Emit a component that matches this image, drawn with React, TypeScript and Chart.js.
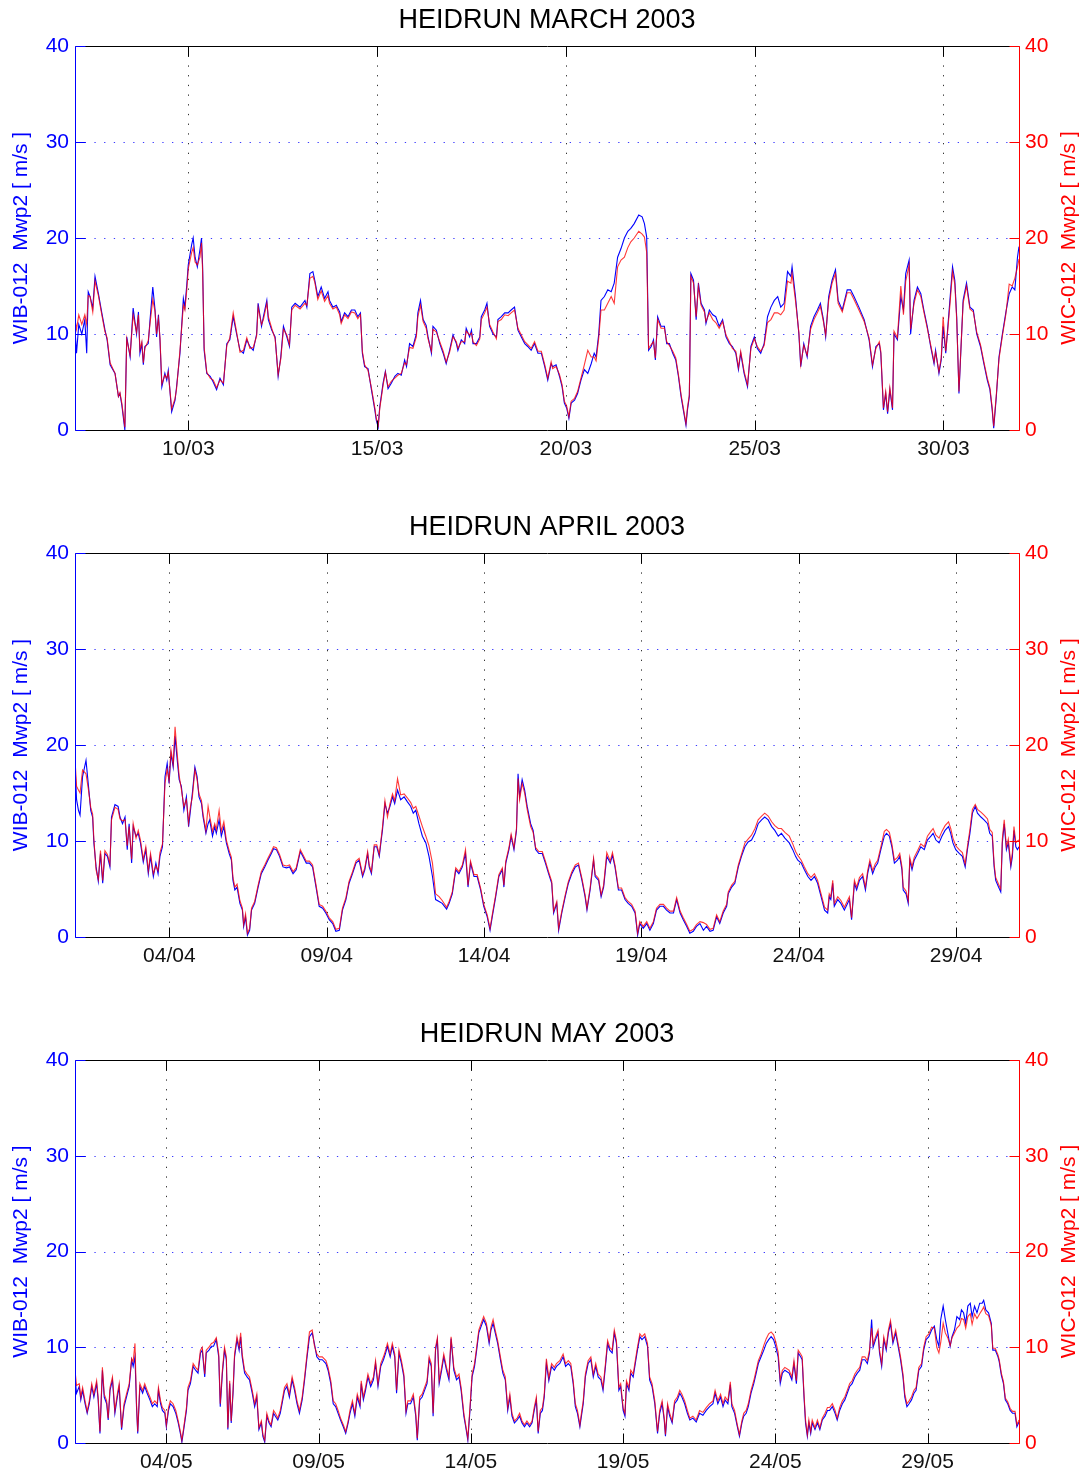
import React, { useEffect, useRef } from "react";
import { Chart, registerables } from "chart.js";

Chart.register(...registerables);

// ---------------- DATA (days since start of panel, values in m/s) ----------------
const marchDays = [
  0.00,0.04,0.10,0.18,0.26,0.31,0.35,0.40,0.47,0.53,
  0.62,0.71,0.79,0.85,0.93,1.06,1.15,1.19,1.24,1.32,
  1.37,1.46,1.54,1.63,1.68,1.72,1.77,1.81,1.85,1.94,
  1.99,2.06,2.12,2.16,2.21,2.25,2.30,2.38,2.43,2.47,
  2.56,2.65,2.69,2.78,2.87,2.91,2.96,3.00,3.09,3.13,
  3.18,3.24,3.31,3.35,3.38,3.42,3.49,3.58,3.66,3.75,
  3.84,3.93,4.02,4.10,4.19,4.28,4.37,4.46,4.55,4.63,
  4.72,4.81,4.85,4.94,4.99,5.08,5.12,5.21,5.30,5.38,
  5.45,5.52,5.61,5.68,5.74,5.83,5.96,6.09,6.14,6.22,
  6.30,6.35,6.43,6.52,6.61,6.70,6.74,6.83,6.92,7.01,
  7.05,7.14,7.23,7.32,7.41,7.49,7.56,7.61,7.67,7.76,
  7.85,7.94,7.98,8.03,8.07,8.16,8.22,8.29,8.38,8.47,
  8.55,8.64,8.73,8.78,8.86,8.95,9.04,9.08,9.15,9.22,
  9.30,9.35,9.44,9.48,9.57,9.66,9.75,9.83,9.92,10.01,
  10.10,10.14,10.23,10.32,10.36,10.45,10.50,10.54,10.63,10.72,
  10.76,10.85,10.91,10.98,11.07,11.16,11.20,11.29,11.38,11.47,
  11.55,11.64,11.73,11.82,11.91,11.99,12.08,12.17,12.26,12.35,
  12.44,12.52,12.61,12.65,12.74,12.83,12.90,12.96,13.02,13.08,
  13.14,13.23,13.31,13.40,13.49,13.58,13.67,13.75,13.80,13.87,
  13.93,14.02,14.11,14.20,14.28,14.37,14.46,14.55,14.64,14.72,
  14.81,14.93,15.02,15.08,15.14,15.19,15.26,15.32,15.37,15.43,
  15.52,15.61,15.67,15.74,15.83,15.91,15.98,16.05,16.11,16.18,
  16.22,16.27,16.31,16.38,16.45,16.51,16.58,16.67,16.71,16.80,
  16.89,16.97,17.06,17.15,17.24,17.33,17.41,17.50,17.57,17.63,
  17.72,17.81,17.90,17.99,18.07,18.16,18.25,18.34,18.43,18.52,
  18.61,18.69,18.78,18.87,18.96,18.99,19.08,19.17,19.22,19.30,
  19.39,19.48,19.57,19.66,19.74,19.82,19.88,19.96,20.05,20.14,
  20.21,20.32,20.45,20.54,20.63,20.76,20.90,21.03,21.12,21.21,
  21.30,21.34,21.41,21.47,21.52,21.58,21.65,21.69,21.78,21.87,
  21.94,22.00,22.09,22.13,22.22,22.31,22.40,22.48,22.57,22.66,
  22.75,22.79,22.88,22.94,22.99,23.06,23.10,23.17,23.24,23.30,
  23.35,23.41,23.45,23.52,23.61,23.70,23.79,23.88,23.98,24.07,
  24.16,24.23,24.29,24.33,24.40,24.47,24.56,24.65,24.74,24.82,
  24.89,24.96,25.00,
];
const marchWib = [
  10.5,8.0,11.0,10.0,11.5,8.0,14.4,13.9,12.7,16.0,
  14.2,12.2,10.5,9.4,6.8,5.9,3.5,3.8,2.6,0.0,
  9.7,7.6,12.7,10.0,12.3,8.0,9.0,6.8,8.7,9.0,
  11.6,14.9,12.5,9.7,12.0,9.4,4.5,5.9,5.2,6.2,
  1.9,3.1,4.5,8.0,13.7,12.8,15.1,17.2,19.3,20.0,
  18.0,17.0,18.8,20.0,17.0,8.3,5.9,5.6,5.0,4.2,
  5.4,4.7,9.0,9.4,11.8,10.0,8.3,8.0,9.4,8.7,
  8.3,10.0,13.2,10.8,11.8,13.5,11.5,10.4,9.7,5.6,
  7.6,10.8,9.7,8.7,12.8,13.2,12.8,13.5,12.8,16.3,
  16.5,15.6,13.9,14.9,13.7,14.4,13.5,12.8,13.0,12.3,
  11.3,12.2,11.8,12.5,12.5,11.8,12.2,8.0,6.6,6.4,
  4.2,2.1,1.0,0.3,2.4,4.9,6.1,4.3,4.9,5.6,
  5.9,5.7,7.3,6.6,9.0,8.7,10.0,12.2,13.5,11.5,
  10.9,9.7,8.0,10.8,10.4,9.0,8.0,6.9,8.3,9.9,
  9.0,8.3,9.4,9.0,10.6,9.7,10.4,9.0,9.0,9.7,
  11.8,12.5,13.2,10.8,10.0,9.7,11.5,11.8,12.2,12.2,
  12.5,12.8,10.4,9.7,9.0,8.7,8.3,9.0,8.0,8.0,
  6.6,5.2,6.9,6.6,6.8,5.6,4.5,2.8,2.3,1.2,
  2.8,3.1,3.8,5.2,6.3,5.9,6.9,8.0,7.6,10.0,
  13.5,13.9,14.6,14.4,15.3,18.0,18.9,20.0,20.7,21.0,
  21.5,22.4,22.2,21.5,20.1,8.3,8.7,9.4,7.3,11.8,
  10.8,10.8,9.0,9.0,8.0,7.3,5.6,3.5,2.1,0.5,
  2.1,3.5,16.3,15.6,11.5,15.3,13.2,12.5,11.1,12.5,
  12.0,11.8,10.8,11.5,9.7,9.0,8.7,8.0,6.3,8.0,
  5.9,4.5,8.7,9.7,8.5,8.0,9.0,11.8,12.8,13.5,
  13.9,12.8,13.2,16.5,16.0,17.0,13.9,10.0,6.6,9.0,
  7.6,10.8,11.8,12.5,13.2,11.5,9.7,13.9,15.6,16.7,
  13.5,12.5,14.6,14.6,13.9,12.8,11.5,9.4,6.6,8.7,
  9.0,8.0,2.1,3.8,1.7,4.2,2.1,10.0,9.4,13.9,
  12.5,16.3,17.7,10.0,13.5,14.9,14.2,12.5,10.8,8.7,
  6.9,8.3,5.9,7.3,10.8,8.0,10.0,13.5,17.0,15.6,
  11.8,3.8,7.3,13.5,15.3,12.8,12.5,10.0,8.7,6.9,
  5.2,4.2,2.1,0.2,3.5,7.6,10.0,12.2,14.2,14.9,
  14.6,18.0,19.1,
];
const marchWic = [
  11.5,10.5,12.0,11.0,12.0,11.0,14.0,13.9,12.3,15.5,
  14.0,12.0,10.3,9.6,7.0,5.9,3.5,3.9,2.8,0.3,
  9.5,7.8,12.0,10.2,12.0,8.4,9.2,7.0,8.5,9.3,
  11.2,13.6,12.3,10.0,11.6,9.6,4.8,5.7,5.4,6.0,
  2.2,3.3,4.3,8.3,13.0,12.5,14.6,16.8,18.5,19.0,
  17.5,17.2,18.0,19.5,16.5,8.6,6.0,5.4,5.2,4.4,
  5.2,4.9,8.8,9.6,12.2,10.2,8.1,8.3,9.6,8.5,
  8.6,9.8,12.8,11.0,11.5,13.2,11.8,10.6,9.5,5.8,
  7.4,10.5,9.9,8.9,12.5,13.0,12.6,13.2,13.0,15.8,
  16.0,15.4,13.6,14.5,13.4,14.0,13.2,12.6,12.8,12.0,
  11.1,12.0,11.6,12.3,12.2,11.6,12.0,8.2,6.8,6.2,
  4.4,2.3,1.2,0.5,2.2,4.7,6.0,4.5,5.1,5.4,
  5.7,5.9,7.0,6.8,8.6,8.5,9.7,11.8,13.0,11.3,
  10.6,9.5,8.2,10.5,10.2,9.2,8.2,7.1,8.1,9.7,
  9.2,8.5,9.2,9.2,10.3,9.9,10.1,9.2,8.8,9.5,
  11.5,12.2,12.8,11.0,10.2,9.5,11.3,11.5,12.0,11.9,
  12.2,12.5,10.6,9.9,9.2,8.9,8.5,9.2,8.2,8.2,
  6.8,5.4,7.1,6.4,6.6,5.8,4.7,3.0,2.5,1.4,
  3.0,3.3,4.0,5.4,6.8,8.3,7.6,7.6,7.2,9.6,
  12.5,12.5,13.2,13.9,13.2,17.0,17.7,18.0,19.0,19.6,
  20.0,20.7,20.4,20.1,18.5,8.5,8.9,9.2,7.5,11.5,
  10.6,10.6,9.2,8.8,8.2,7.5,5.8,3.7,2.3,0.7,
  2.3,3.7,16.0,15.3,11.8,15.0,13.0,12.3,11.3,12.2,
  11.5,11.2,10.6,11.3,9.9,9.2,8.5,8.2,6.5,8.2,
  6.1,4.7,8.5,9.5,8.7,8.2,8.8,11.2,11.5,12.2,
  12.2,12.0,12.5,15.5,15.3,16.3,13.5,10.2,6.8,8.8,
  7.8,10.5,11.5,12.2,12.9,11.3,9.9,13.5,15.3,16.3,
  13.2,12.3,14.3,14.3,13.6,12.5,11.3,9.6,6.8,8.5,
  9.2,8.2,2.3,4.0,1.9,4.4,2.3,10.3,9.6,15.0,
  12.0,15.5,17.2,10.5,13.2,14.6,13.9,12.3,10.6,8.9,
  7.1,8.1,6.1,7.5,11.8,8.2,9.8,13.0,16.5,15.2,
  11.5,4.0,7.5,13.2,15.0,12.6,12.3,10.2,8.9,7.1,
  5.4,4.4,2.3,0.4,3.7,7.4,9.8,12.0,15.2,15.0,
  15.8,17.0,17.8,
];

const aprilDays = [
  0.00,0.05,0.11,0.16,0.24,0.35,0.42,0.50,0.56,0.60,
  0.67,0.74,0.81,0.88,0.95,1.03,1.11,1.16,1.27,1.37,
  1.43,1.51,1.59,1.66,1.72,1.80,1.85,1.94,2.01,2.08,
  2.17,2.25,2.33,2.40,2.49,2.57,2.64,2.70,2.78,2.86,
  2.93,2.99,3.05,3.12,3.18,3.25,3.31,3.38,3.46,3.54,
  3.61,3.67,3.73,3.81,3.88,3.94,4.02,4.07,4.16,4.23,
  4.28,4.37,4.44,4.49,4.58,4.65,4.73,4.81,4.90,4.97,
  5.02,5.08,5.15,5.24,5.32,5.36,5.42,5.48,5.55,5.61,
  5.71,5.82,5.92,6.03,6.13,6.24,6.31,6.40,6.50,6.61,
  6.72,6.82,6.93,7.03,7.16,7.24,7.35,7.45,7.55,7.66,
  7.76,7.87,7.97,8.08,8.19,8.29,8.40,8.50,8.61,8.71,
  8.82,8.93,9.03,9.14,9.21,9.30,9.35,9.42,9.51,9.59,
  9.67,9.72,9.77,9.85,9.93,10.01,10.09,10.16,10.25,10.35,
  10.46,10.56,10.67,10.75,10.83,10.93,11.04,11.15,11.25,11.36,
  11.46,11.57,11.67,11.81,11.89,11.99,12.10,12.20,12.31,12.41,
  12.49,12.57,12.68,12.78,12.89,12.99,13.10,13.19,13.26,13.37,
  13.47,13.58,13.63,13.69,13.79,13.86,13.95,14.03,14.08,14.13,
  14.21,14.29,14.37,14.48,14.56,14.64,14.74,14.85,14.95,15.05,
  15.15,15.21,15.31,15.37,15.47,15.58,15.68,15.79,15.90,16.00,
  16.11,16.21,16.27,16.37,16.48,16.53,16.64,16.72,16.80,16.90,
  17.01,17.08,17.16,17.27,17.37,17.48,17.58,17.69,17.80,17.88,
  17.95,18.06,18.17,18.27,18.38,18.48,18.59,18.70,18.80,18.91,
  19.02,19.12,19.23,19.33,19.44,19.54,19.65,19.75,19.86,19.97,
  20.07,20.18,20.28,20.39,20.49,20.60,20.71,20.76,20.87,20.97,
  21.08,21.18,21.29,21.39,21.50,21.61,21.71,21.82,21.92,22.03,
  22.14,22.24,22.35,22.45,22.56,22.70,22.81,22.90,22.97,23.08,
  23.18,23.29,23.39,23.50,23.60,23.71,23.82,23.92,23.97,24.02,
  24.08,24.13,24.24,24.34,24.45,24.55,24.61,24.68,24.77,24.84,
  24.93,25.03,25.12,25.19,25.26,25.35,25.43,25.51,25.61,25.72,
  25.79,25.88,25.96,26.04,26.14,26.21,26.28,26.32,26.41,26.48,
  26.53,26.60,26.67,26.78,26.88,26.99,27.09,27.20,27.27,27.36,
  27.46,27.55,27.65,27.76,27.83,27.90,27.99,28.10,28.20,28.29,
  28.36,28.44,28.52,28.61,28.68,28.79,28.89,29.00,29.07,29.15,
  29.21,29.26,29.35,29.42,29.47,29.53,29.60,29.66,29.74,29.79,
  29.84,29.90,29.95,30.00,
];
const aprilWib = [
  18.0,14.3,13.2,12.7,16.7,18.4,16.0,13.2,12.5,9.8,
  7.3,5.8,8.7,5.6,8.7,8.4,7.3,12.5,13.8,13.6,
  12.5,11.8,12.5,9.1,11.8,7.7,11.5,10.5,10.8,9.8,
  7.8,9.1,6.6,8.4,6.3,7.7,6.6,8.4,9.4,16.7,
  18.1,16.0,19.1,17.7,20.9,18.4,16.4,15.7,13.2,14.6,
  11.5,13.2,15.0,17.7,16.7,14.6,13.9,12.5,10.8,11.8,
  12.2,10.5,11.5,10.8,12.2,10.5,11.5,9.8,8.7,8.0,
  5.9,4.9,5.2,3.5,2.8,1.1,2.1,0.2,0.7,2.8,
  3.5,5.2,6.6,7.3,8.0,8.7,9.2,9.1,8.4,7.3,
  7.2,7.3,6.6,7.0,8.9,8.4,7.7,7.7,7.3,5.2,
  3.2,3.0,2.5,1.8,1.4,0.6,0.7,2.8,3.9,5.6,
  6.6,7.7,8.0,6.3,7.0,8.7,7.3,6.6,9.4,9.4,
  8.4,9.8,11.1,13.9,12.9,13.6,14.6,13.9,15.3,14.3,
  14.6,14.1,13.6,12.9,13.2,11.8,10.5,9.8,8.4,6.3,
  3.9,3.7,3.5,2.9,3.5,4.5,7.0,6.6,7.3,8.7,
  5.2,7.7,6.3,6.3,4.9,3.2,2.1,0.7,2.1,4.2,
  6.3,7.0,5.2,7.7,9.1,10.5,9.1,11.1,17.0,14.6,
  16.4,15.3,13.6,11.8,11.1,9.1,8.7,8.7,7.7,6.6,
  5.6,2.5,3.5,0.7,2.5,4.2,5.6,6.6,7.3,7.5,
  5.9,4.2,2.8,4.9,8.0,6.3,5.9,4.2,5.2,8.4,
  7.7,8.5,7.3,4.9,4.9,3.9,3.5,3.2,2.5,0.2,
  1.4,0.9,1.4,0.7,1.4,2.8,3.2,3.2,2.8,2.5,
  2.5,3.9,2.5,1.8,1.1,0.4,0.6,1.1,1.4,0.7,
  1.1,0.6,0.7,2.1,1.4,2.5,3.2,4.5,5.2,5.6,
  7.3,8.4,9.4,9.9,10.1,10.8,11.8,12.2,12.5,12.2,
  11.5,11.1,10.5,10.8,10.3,9.8,9.1,8.4,8.0,7.7,
  7.0,6.3,5.9,6.3,5.6,4.2,2.8,2.5,4.2,3.9,
  5.6,3.2,3.9,3.5,2.8,3.5,3.9,1.8,5.6,4.9,
  5.9,6.3,4.9,6.6,7.7,6.6,7.3,7.7,9.1,10.5,
  10.8,10.5,9.4,7.7,8.0,8.4,7.0,4.9,4.5,3.5,
  8.0,7.0,8.0,8.7,9.4,9.1,10.1,10.5,10.8,10.1,
  9.8,10.5,11.1,11.5,10.8,9.8,9.1,8.7,8.4,7.3,
  9.1,10.8,12.9,13.6,12.9,12.5,12.2,11.8,10.8,10.5,
  7.3,5.9,5.2,4.7,9.8,11.8,9.1,9.8,7.3,8.4,
  11.1,9.4,9.1,9.4,
];
const aprilWic = [
  18.5,15.7,15.3,15.0,17.4,17.0,15.5,13.5,12.8,10.2,
  7.0,6.0,9.0,5.9,9.0,8.6,7.6,12.2,13.5,13.3,
  12.3,12.1,12.2,9.5,11.5,8.1,11.8,10.3,11.1,10.1,
  8.1,9.4,6.9,8.7,6.6,7.4,6.9,8.8,9.7,16.0,
  17.5,16.3,19.5,18.0,21.9,19.0,16.8,15.4,13.6,14.3,
  11.9,13.6,14.6,17.4,16.4,14.9,14.2,12.8,11.1,13.6,
  12.6,11.0,11.8,11.2,13.2,11.0,12.0,10.1,9.0,8.3,
  6.2,5.2,5.5,3.8,3.0,1.3,2.4,0.4,0.9,3.0,
  3.7,5.4,6.8,7.5,8.2,8.9,9.4,9.3,8.6,7.5,
  7.4,7.5,6.8,7.2,9.1,8.6,7.9,7.9,7.5,5.4,
  3.4,3.2,2.7,2.0,1.6,0.8,0.9,3.0,4.1,5.8,
  6.8,7.9,8.2,6.5,7.2,8.9,7.5,6.8,9.6,9.6,
  8.6,10.0,11.4,14.2,12.5,13.9,14.9,14.2,16.5,14.8,
  14.9,14.5,14.0,13.4,13.6,12.6,11.5,10.5,9.5,7.7,
  4.5,4.2,3.8,3.1,3.7,4.7,7.2,6.8,7.5,9.1,
  5.4,7.9,6.5,6.5,5.1,3.4,2.3,0.9,2.3,4.4,
  6.5,7.2,5.4,7.9,9.3,10.7,9.3,11.3,16.5,14.3,
  16.0,15.0,13.3,11.5,10.9,9.3,8.9,8.9,7.9,6.8,
  5.8,2.7,3.7,0.9,2.7,4.4,5.8,6.8,7.5,7.7,
  6.1,4.4,3.0,5.1,8.2,6.5,6.1,4.4,5.4,8.8,
  7.9,8.8,7.5,5.1,5.1,4.1,3.7,3.4,2.7,0.4,
  1.6,1.1,1.6,0.9,1.6,3.0,3.4,3.4,3.0,2.7,
  2.7,4.1,2.7,2.0,1.3,0.6,0.8,1.3,1.6,1.5,
  1.3,0.8,0.9,2.3,1.6,2.7,3.4,4.7,5.4,5.8,
  7.5,8.6,9.8,10.2,10.6,11.3,12.2,12.6,12.9,12.6,
  12.0,11.6,11.3,11.3,10.9,10.5,9.7,8.9,8.5,8.0,
  7.3,6.6,6.2,6.6,5.9,4.5,3.1,2.8,4.5,4.2,
  5.9,3.5,4.2,3.8,3.1,3.8,4.2,2.0,5.9,5.2,
  6.2,6.6,5.2,6.9,8.0,6.9,7.6,8.0,9.4,11.0,
  11.2,10.9,9.7,8.0,8.3,8.7,7.3,5.2,4.8,3.8,
  8.3,7.3,8.3,9.0,9.7,9.4,10.5,11.0,11.3,10.6,
  10.3,11.0,11.6,12.0,11.3,10.3,9.5,9.1,8.8,7.6,
  9.4,11.2,13.3,13.8,13.3,13.0,12.7,12.3,11.2,10.9,
  7.6,6.2,5.5,5.0,10.2,12.2,9.4,10.2,7.6,8.8,
  11.5,9.8,10.0,10.1,
];

const mayDays = [
  0.00,0.05,0.14,0.19,0.25,0.33,0.40,0.47,0.55,0.62,
  0.71,0.76,0.82,0.90,0.96,1.04,1.09,1.15,1.23,1.31,
  1.39,1.45,1.53,1.61,1.69,1.78,1.86,1.91,1.97,2.02,
  2.06,2.13,2.22,2.29,2.37,2.46,2.54,2.62,2.70,2.74,
  2.81,2.87,2.95,3.00,3.07,3.13,3.22,3.31,3.39,3.46,
  3.51,3.57,3.66,3.71,3.79,3.88,3.96,4.04,4.12,4.18,
  4.26,4.31,4.40,4.48,4.55,4.64,4.72,4.77,4.84,4.91,
  4.97,5.02,5.08,5.13,5.19,5.24,5.32,5.39,5.44,5.49,
  5.57,5.65,5.73,5.82,5.90,5.97,6.04,6.12,6.17,6.23,
  6.30,6.37,6.44,6.52,6.58,6.66,6.74,6.80,6.88,6.96,
  7.04,7.13,7.21,7.29,7.37,7.46,7.54,7.61,7.70,7.79,
  7.86,7.94,8.02,8.12,8.24,8.31,8.40,8.48,8.56,8.64,
  8.72,8.81,8.89,8.97,9.03,9.11,9.19,9.27,9.36,9.40,
  9.47,9.54,9.62,9.71,9.80,9.87,9.95,10.04,10.13,10.20,
  10.26,10.35,10.42,10.50,10.56,10.64,10.72,10.80,10.87,10.93,
  11.02,11.11,11.19,11.24,11.32,11.40,11.48,11.56,11.63,11.70,
  11.76,11.84,11.90,11.96,12.04,12.11,12.20,12.28,12.35,12.44,
  12.53,12.61,12.68,12.77,12.83,12.90,12.97,13.04,13.12,13.19,
  13.26,13.34,13.42,13.51,13.60,13.66,13.73,13.80,13.88,13.97,
  14.05,14.13,14.21,14.28,14.35,14.43,14.52,14.60,14.68,14.76,
  14.84,14.93,15.01,15.08,15.15,15.21,15.28,15.35,15.41,15.48,
  15.56,15.65,15.74,15.81,15.92,16.03,16.11,16.20,16.28,16.36,
  16.43,16.50,16.58,16.63,16.69,16.76,16.85,16.94,17.02,17.10,
  17.18,17.27,17.34,17.42,17.49,17.56,17.64,17.71,17.78,17.86,
  17.92,18.00,18.06,18.11,18.19,18.25,18.33,18.40,18.47,18.55,
  18.62,18.71,18.80,18.87,18.95,19.04,19.13,19.20,19.28,19.35,
  19.39,19.46,19.53,19.61,19.69,19.78,19.86,19.93,20.02,20.11,
  20.19,20.29,20.40,20.51,20.62,20.73,20.84,20.95,21.02,21.11,
  21.20,21.28,21.35,21.44,21.52,21.57,21.66,21.75,21.82,21.90,
  21.96,22.04,22.11,22.20,22.29,22.37,22.44,22.53,22.62,22.70,
  22.78,22.86,22.94,23.01,23.09,23.16,23.23,23.31,23.45,23.54,
  23.61,23.69,23.75,23.83,23.88,23.94,23.99,24.05,24.10,24.16,
  24.21,24.30,24.38,24.46,24.54,24.63,24.71,24.78,24.87,24.96,
  25.03,25.11,25.20,25.28,25.36,25.44,25.52,25.61,25.69,25.77,
  25.85,25.94,26.02,26.09,26.16,26.21,26.29,26.37,26.42,26.49,
  26.56,26.64,26.71,26.78,26.86,26.95,27.03,27.11,27.19,27.25,
  27.32,27.39,27.47,27.55,27.62,27.71,27.80,27.87,27.95,28.04,
  28.13,28.22,28.30,28.37,28.43,28.51,28.58,28.66,28.74,28.80,
  28.88,28.96,29.05,29.11,29.18,29.25,29.32,29.40,29.46,29.54,
  29.62,29.71,29.79,29.84,29.91,30.00,30.09,30.14,30.22,30.31,
  30.35,30.42,30.49,30.55,30.63,30.71,30.79,30.87,30.93,31.00,
];
const mayWib = [
  6.9,5.2,5.9,4.5,5.5,4.1,3.1,4.1,5.9,4.8,
  6.2,4.5,1.0,7.6,4.8,4.1,2.4,5.5,6.6,3.1,
  4.8,5.9,1.4,3.8,4.8,5.9,8.7,8.0,9.0,3.8,
  1.0,5.9,5.2,5.9,5.2,4.5,3.8,4.1,3.8,5.5,
  4.1,3.4,3.1,1.7,3.4,4.1,3.8,3.1,2.1,1.0,
  0.1,1.4,3.4,5.5,6.2,8.0,7.6,7.3,9.4,9.7,
  6.9,9.4,9.7,10.1,10.1,10.8,9.0,3.8,7.3,9.7,
  8.7,1.4,6.2,2.1,5.2,9.0,10.8,9.7,11.1,9.0,
  7.3,6.9,6.6,5.2,3.8,4.8,1.4,2.1,0.7,0.1,
  2.8,2.1,1.7,3.1,2.8,2.4,3.1,4.1,5.5,5.9,
  4.8,6.6,5.5,4.1,3.1,4.5,6.6,8.7,11.1,11.5,
  10.4,9.0,8.7,8.7,8.3,7.6,6.2,4.1,3.8,3.1,
  2.4,1.7,1.0,2.1,3.1,4.1,2.8,4.8,3.8,6.2,
  4.5,5.5,6.9,5.9,6.6,8.3,5.9,8.0,8.7,9.4,
  10.1,9.0,10.1,9.0,5.2,9.4,8.3,6.9,3.1,4.1,
  4.1,4.8,2.8,0.3,4.5,4.8,5.5,6.2,8.7,8.0,
  2.8,9.7,10.8,6.2,7.6,9.0,7.6,6.6,10.9,7.6,
  6.6,6.9,5.5,2.8,1.7,0.3,3.4,6.9,8.0,9.7,
  11.5,12.2,12.9,12.2,10.4,11.8,12.5,11.5,10.4,8.7,
  7.3,6.6,3.4,4.8,2.8,2.1,2.4,2.8,2.1,1.7,
  2.1,1.7,2.1,3.4,4.5,1.0,3.1,3.4,4.8,8.3,
  6.5,8.0,7.6,8.0,8.3,9.0,8.0,8.3,8.0,6.2,
  3.8,3.1,1.7,2.8,4.1,6.9,8.3,8.7,6.9,8.0,
  6.9,6.6,5.5,8.0,10.4,9.7,9.4,11.5,10.4,5.5,
  5.9,3.4,2.8,6.2,5.5,7.3,6.9,8.3,9.7,11.1,
  10.8,11.1,10.1,6.6,5.9,4.1,1.0,3.1,4.1,2.4,
  0.7,3.8,2.8,2.1,4.1,4.5,5.2,4.8,4.1,3.1,
  2.4,2.6,2.2,3.1,2.9,3.4,3.8,4.1,5.2,4.1,
  4.8,3.8,4.5,4.1,6.1,3.8,3.1,1.7,0.7,2.1,
  2.8,3.1,3.8,5.2,6.2,7.3,8.3,9.0,9.7,10.4,
  10.8,11.1,10.8,10.1,9.0,6.2,7.3,7.6,7.3,6.6,
  8.3,6.2,9.4,9.0,8.7,4.8,2.1,0.7,2.1,1.0,
  2.1,1.4,2.1,1.4,2.4,2.8,3.4,3.4,3.8,3.1,
  2.4,3.4,4.1,4.5,5.2,5.9,6.2,6.9,7.3,7.6,
  8.7,8.7,8.3,9.4,12.9,10.0,10.8,11.5,9.4,8.0,
  10.8,9.7,11.5,12.5,10.4,11.5,10.1,8.7,6.9,4.8,
  3.8,4.1,4.5,5.2,5.5,7.6,8.0,9.7,10.8,11.1,
  11.8,12.2,10.8,10.1,12.9,14.3,12.9,11.5,10.1,11.1,
  11.8,13.2,12.9,13.9,13.6,12.5,14.3,14.6,13.2,14.3,
  13.6,14.6,14.6,14.9,13.9,13.6,12.5,9.7,9.7,9.0,
  8.5,7.1,6.2,4.5,4.1,3.4,3.1,3.1,1.7,2.2,
];
const mayWic = [
  7.6,6.0,6.2,4.8,5.8,4.4,3.3,4.4,6.2,5.1,
  6.5,4.8,1.2,7.9,5.1,4.4,2.6,5.8,6.9,3.4,
  5.1,6.2,1.6,4.1,5.1,6.2,8.8,8.5,10.4,4.1,
  1.2,6.2,5.5,6.2,5.5,4.8,4.1,4.4,4.1,5.8,
  4.4,3.7,3.4,1.9,3.7,4.4,4.1,3.4,2.3,1.2,
  0.3,1.6,3.7,5.8,6.5,8.3,7.9,7.6,9.7,10.0,
  7.2,9.7,10.0,10.4,10.5,11.0,9.3,4.1,7.6,10.0,
  9.0,1.6,6.5,2.3,5.5,9.3,11.1,10.0,11.5,9.3,
  7.6,7.2,6.9,5.5,4.1,5.1,1.6,2.3,0.9,0.3,
  3.1,2.3,1.9,3.4,3.1,2.6,3.4,4.4,5.8,6.2,
  5.1,6.9,5.8,4.4,3.4,4.8,6.9,9.0,11.6,11.8,
  10.2,9.3,9.0,9.0,8.6,7.9,6.5,4.4,4.1,3.4,
  2.6,1.9,1.2,2.3,3.4,4.4,3.1,5.1,4.1,6.5,
  4.8,5.8,7.2,6.2,6.9,8.6,6.2,8.3,9.0,9.7,
  10.4,9.3,10.4,9.3,5.5,9.7,8.6,7.2,3.4,4.4,
  4.4,5.1,3.1,0.5,4.8,5.1,5.8,6.5,9.0,8.3,
  3.1,10.0,11.0,6.5,7.9,9.3,7.9,6.9,11.1,7.9,
  6.9,7.2,5.8,3.1,1.9,0.5,3.7,7.2,8.3,10.0,
  11.8,12.5,13.2,12.5,10.7,12.1,12.9,11.8,10.7,9.0,
  7.6,6.9,3.7,5.1,3.1,2.3,2.6,3.1,2.3,1.9,
  2.3,1.9,2.3,3.7,4.8,1.2,3.4,3.7,5.1,8.8,
  6.8,8.3,7.9,8.3,8.6,9.3,8.3,8.6,8.3,6.5,
  4.1,3.4,1.9,3.1,4.4,7.2,8.6,9.0,7.2,8.3,
  7.2,6.9,5.8,8.3,10.7,10.0,9.7,11.8,10.7,5.8,
  6.2,3.7,3.1,6.5,5.8,7.6,7.2,8.6,10.0,11.4,
  11.1,11.4,10.4,6.9,6.2,4.4,1.2,3.4,4.4,2.6,
  0.9,4.1,3.1,2.3,4.4,4.8,5.5,5.1,4.4,3.4,
  2.6,2.8,2.4,3.4,3.2,3.7,4.1,4.4,5.5,4.4,
  5.1,4.1,4.8,4.4,6.4,4.1,3.4,1.9,0.9,2.3,
  3.1,3.4,4.1,5.5,6.5,7.6,8.6,9.3,10.2,10.9,
  11.4,11.6,11.3,10.6,9.5,6.6,7.6,7.9,7.6,6.9,
  8.6,6.5,9.7,9.3,9.0,5.1,2.4,0.9,2.4,1.2,
  2.4,1.6,2.4,1.6,2.6,3.1,3.7,3.7,4.1,3.4,
  2.6,3.7,4.4,4.8,5.5,6.2,6.5,7.2,7.6,7.9,
  9.0,9.0,8.6,9.7,12.0,10.3,11.1,11.8,9.7,8.3,
  11.1,10.0,11.8,12.8,10.7,11.8,10.4,9.0,7.2,5.1,
  4.1,4.4,4.8,5.5,5.8,7.9,8.3,10.0,11.1,11.4,
  12.1,12.0,10.0,9.4,10.5,12.5,11.5,11.0,10.2,11.0,
  11.5,12.0,12.3,13.0,12.9,12.0,13.2,13.5,12.4,13.5,
  13.0,13.5,13.9,14.2,13.5,13.3,12.3,9.9,9.9,9.2,
  8.7,7.3,6.4,4.7,4.3,3.6,3.3,3.3,1.9,2.4,
];

const marchTickDays = [3, 8, 13, 18, 23];
const marchTickLabels = ["10/03", "15/03", "20/03", "25/03", "30/03"];
const aprilTickDays = [3, 8, 13, 18, 23, 28];
const aprilTickLabels = ["04/04", "09/04", "14/04", "19/04", "24/04", "29/04"];
const mayTickDays = [3, 8, 13, 18, 23, 28];
const mayTickLabels = ["04/05", "09/05", "14/05", "19/05", "24/05", "29/05"];
const yTickValues = [0, 10, 20, 30, 40];
const leftAxisTitle = "WIB-012  Mwp2 [ m/s ]";
const rightAxisTitle = "WIC-012  Mwp2 [ m/s ]";

// ---------------- LAYOUT ----------------
const FONT = '"Liberation Sans", Arial, Helvetica, sans-serif';
const panels = [
  { title: "HEIDRUN MARCH 2003", days: marchDays, wib: marchWib, wic: marchWic, tickDays: marchTickDays, tickLabels: marchTickLabels, span: 25, top: 0, height: 507, xH: 77 },
  { title: "HEIDRUN APRIL 2003", days: aprilDays, wib: aprilWib, wic: aprilWic, tickDays: aprilTickDays, tickLabels: aprilTickLabels, span: 30, top: 507, height: 507, xH: 77 },
  { title: "HEIDRUN MAY 2003", days: mayDays, wib: mayWib, wic: mayWic, tickDays: mayTickDays, tickLabels: mayTickLabels, span: 31, top: 1014, height: 463, xH: 34 },
];

function Panel({ cfg }: { cfg: any }) {
  const ref = useRef<HTMLCanvasElement | null>(null);
  useEffect(() => {
    const canvas = ref.current;
    if (!canvas) return;
    const px = (v: number) => Math.round(v) + 0.5;
    const decor = {
      id: "decor",
      beforeDatasetsDraw(chart: any) {
        const { ctx, chartArea: a, scales } = chart;
        ctx.save();
        ctx.lineWidth = 1;
        ctx.setLineDash([1.3, 8.4]);
        ctx.strokeStyle = "#3a3aff";
        for (const v of yTickValues) {
          if (v <= 0 || v >= 40) continue;
          const y = px(scales.y.getPixelForValue(v));
          ctx.beginPath();
          ctx.moveTo(a.left, y);
          ctx.lineTo(a.right, y);
          ctx.stroke();
        }
        ctx.strokeStyle = "#333";
        for (const d of cfg.tickDays) {
          const x = px(scales.x.getPixelForValue(d));
          ctx.beginPath();
          ctx.moveTo(x, a.top);
          ctx.lineTo(x, a.bottom);
          ctx.stroke();
        }
        ctx.restore();
      },
      afterDatasetsDraw(chart: any) {
        const { ctx, chartArea: a, scales } = chart;
        const L = px(a.left), R = px(a.right), T = px(a.top), B = px(a.bottom);
        ctx.save();
        ctx.setLineDash([]);
        ctx.lineWidth = 1;
        ctx.strokeStyle = "#000";
        ctx.beginPath();
        ctx.moveTo(L, T); ctx.lineTo(R, T);
        ctx.moveTo(L, B); ctx.lineTo(R, B);
        for (const d of cfg.tickDays) {
          const x = px(scales.x.getPixelForValue(d));
          ctx.moveTo(x, B); ctx.lineTo(x, B - 10);
          ctx.moveTo(x, T); ctx.lineTo(x, T + 10);
        }
        ctx.stroke();
        ctx.strokeStyle = "#0000ff";
        ctx.beginPath();
        ctx.moveTo(L, T); ctx.lineTo(L, B);
        for (const v of yTickValues) {
          const y = px(scales.y.getPixelForValue(v));
          ctx.moveTo(L, y); ctx.lineTo(L + 10, y);
        }
        ctx.stroke();
        ctx.strokeStyle = "#ff0000";
        ctx.beginPath();
        ctx.moveTo(R, T); ctx.lineTo(R, B);
        for (const v of yTickValues) {
          const y = px(scales.y2.getPixelForValue(v));
          ctx.moveTo(R, y); ctx.lineTo(R - 10, y);
        }
        ctx.stroke();
        ctx.restore();
      },
      afterDraw(chart: any) {
        const { ctx, chartArea: a } = chart;
        ctx.save();
        ctx.translate(a.right + 50, (a.top + a.bottom) / 2);
        ctx.rotate(-Math.PI / 2);
        ctx.textAlign = "center";
        ctx.textBaseline = "middle";
        ctx.fillStyle = "#ff0000";
        ctx.font = `21px ${FONT}`;
        ctx.fillText(rightAxisTitle, 0, 0);
        ctx.restore();
      },
    };

    const tickFont = { family: FONT, size: 21, weight: "normal" as const };
    const chart = new Chart(canvas, {
      type: "line",
      data: {
        datasets: [
          {
            label: "WIB-012",
            data: cfg.days.map((d: number, i: number) => ({ x: d, y: cfg.wib[i] })),
            borderColor: "#0000ff",
            borderWidth: 1.1,
            pointRadius: 0,
            tension: 0,
            yAxisID: "y",
            order: 2,
          },
          {
            label: "WIC-012",
            data: cfg.days.map((d: number, i: number) => ({ x: d, y: cfg.wic[i] })),
            borderColor: "rgba(255,0,0,0.78)",
            borderWidth: 1.1,
            pointRadius: 0,
            tension: 0,
            yAxisID: "y2",
            order: 1,
          },
        ],
      },
      options: {
        animation: false,
        responsive: false,
        maintainAspectRatio: false,
        events: [],
        layout: { padding: 0 },
        plugins: {
          legend: { display: false },
          tooltip: { enabled: false },
          title: {
            display: true,
            text: cfg.title,
            fullSize: false,
            color: "#000",
            font: { family: FONT, size: 27, weight: "normal" },
            padding: { top: 4, bottom: 9.6 },
          },
        },
        scales: {
          x: {
            type: "linear",
            min: 0,
            max: cfg.span,
            afterBuildTicks: (s: any) => {
              s.ticks = cfg.tickDays.map((v: number) => ({ value: v }));
            },
            afterFit: (s: any) => {
              s.height = cfg.xH;
            },
            ticks: {
              autoSkip: false,
              maxRotation: 0,
              padding: 7,
              color: "#111",
              font: tickFont,
              callback: (_v: any, i: number) => cfg.tickLabels[i],
            },
            grid: { display: false, drawTicks: false },
            border: { display: false },
          },
          y: {
            position: "left",
            min: 0,
            max: 40,
            afterBuildTicks: (s: any) => {
              s.ticks = yTickValues.map((v) => ({ value: v }));
            },
            afterFit: (s: any) => {
              s.width = 75;
            },
            ticks: { padding: 6, color: "#0000ff", font: tickFont },
            grid: { display: false, drawTicks: false },
            border: { display: false },
            title: {
              display: true,
              text: leftAxisTitle,
              color: "#0000ff",
              font: tickFont,
              padding: { top: 9, bottom: 0 },
            },
          },
          y2: {
            position: "right",
            min: 0,
            max: 40,
            afterBuildTicks: (s: any) => {
              s.ticks = yTickValues.map((v) => ({ value: v }));
            },
            afterFit: (s: any) => {
              s.width = 66;
            },
            ticks: { padding: 6, color: "#ff0000", font: tickFont },
            grid: { display: false, drawTicks: false },
            border: { display: false },
          },
        },
      } as any,
      plugins: [decor],
    });
    return () => chart.destroy();
  }, [cfg]);

  return (
    <canvas
      ref={ref}
      width={1085}
      height={cfg.height}
      style={{ position: "absolute", left: 0, top: cfg.top, width: 1085, height: cfg.height, display: "block" }}
    />
  );
}

export default function App() {
  return (
    <div style={{ position: "absolute", left: 0, top: 0, width: 1085, height: 1477, background: "#fff", overflow: "hidden" }}>
      {panels.map((p) => (
        <Panel key={p.title} cfg={p} />
      ))}
    </div>
  );
}
